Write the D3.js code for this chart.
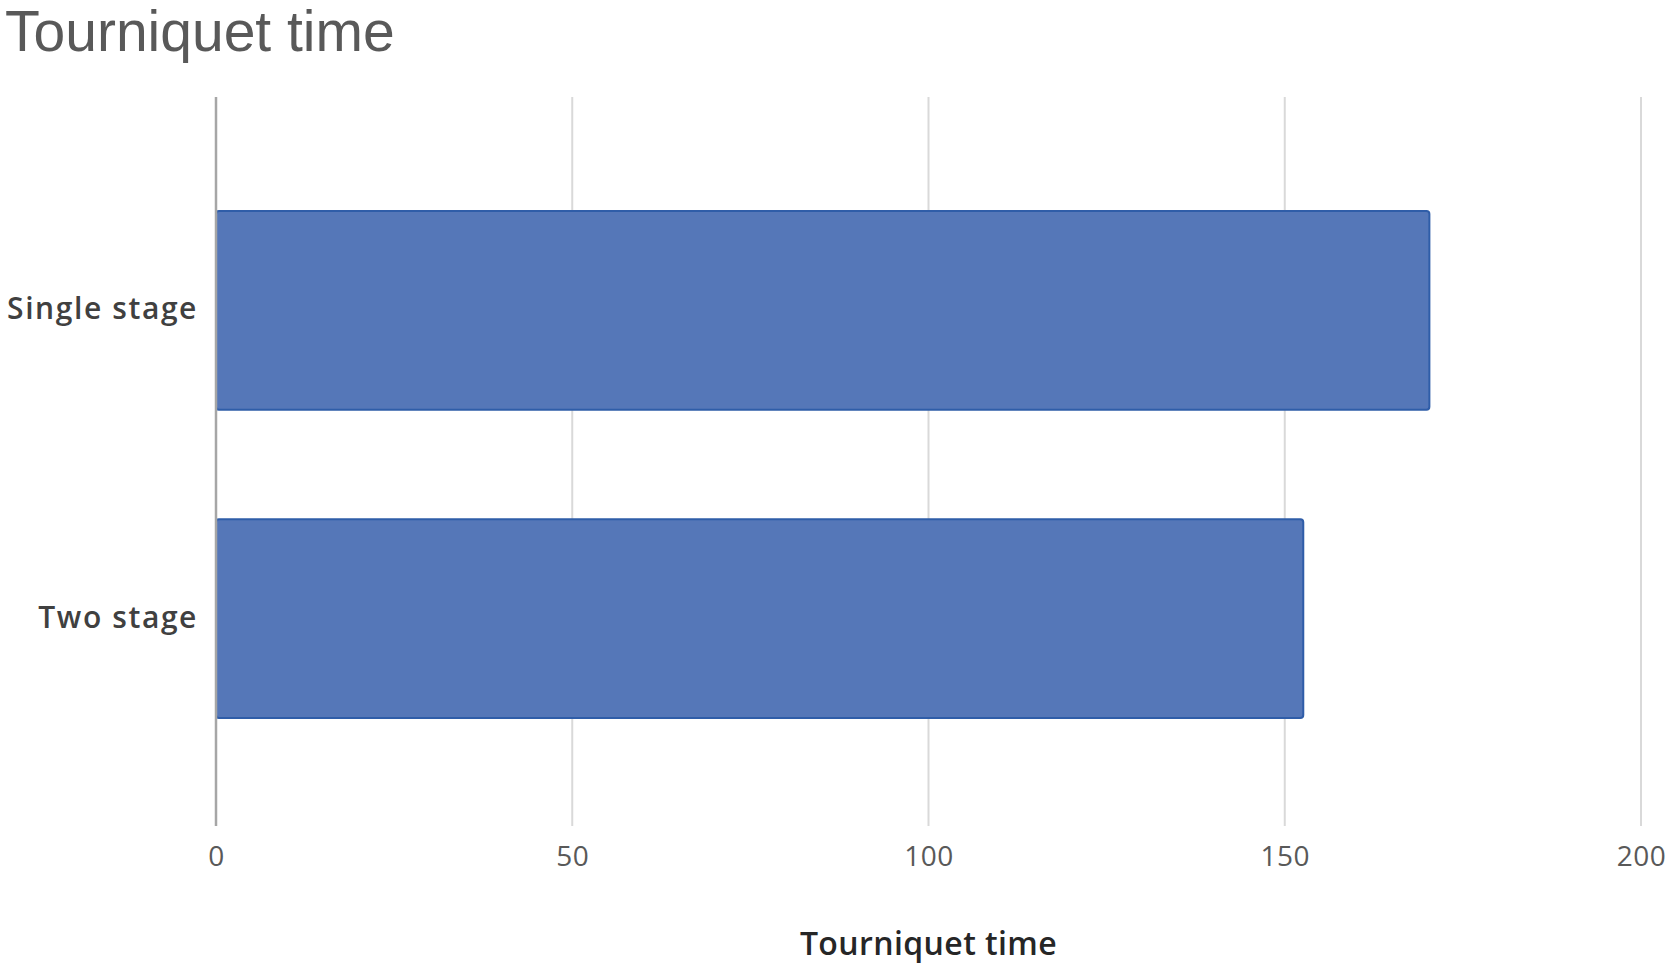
<!DOCTYPE html>
<html>
<head>
  <meta charset="utf-8">
  <title>Tourniquet time</title>
  <style>
    html, body {
      margin: 0;
      padding: 0;
      background: #fff;
      overflow: hidden;
    }
    .title {
      font: 57px "Liberation Sans", Arial, sans-serif;
      fill: #595959;
    }
    .cat text {
      font: 600 30px "Open Sans", sans-serif;
      fill: #404040;
      letter-spacing: 1.6px;
    }
    .xaxis text {
      font: 28px "Open Sans", sans-serif;
      fill: #595959;
      letter-spacing: 0.5px;
    }
    .axis-title {
      font: 600 32px "Open Sans", sans-serif;
      fill: #262626;
      letter-spacing: 0.4px;
    }
    .grid line {
      stroke: #d9d9d9;
      stroke-width: 2px;
    }
    .bar {
      fill: #5577b8;
      stroke: #2f5da8;
      stroke-width: 2px;
    }
  </style>
</head>
<body>
  <svg id="chart" width="1671" height="969"></svg>
  <script src="https://d3js.org/d3.v7.min.js"></script>
  <script>
    // Chart data
    const categories = ["Single stage", "Two stage"];
    const values = [170.3, 152.6];
    const xTicks = [0, 50, 100, 150, 200];

    const svg = d3.select("#chart");
    const plot = {left: 216, right: 1641, top: 97, bottom: 826};

    const x = d3.scaleLinear()
      .domain([0, 200])
      .range([plot.left, plot.right]);

    // bars sit a touch below the middle of the plot
    const y = d3.scaleBand()
      .domain(categories)
      .range([plot.top + 3, plot.bottom + 3])
      .paddingInner(0.355)
      .paddingOuter(0.36);

    // Title
    svg.append("text")
      .attr("class", "title")
      .attr("x", 5)
      .attr("y", 51)
      .text("Tourniquet time");

    // Vertical gridlines
    svg.append("g")
      .attr("class", "grid")
      .selectAll("line")
      .data(xTicks.slice(1))
      .join("line")
      .attr("x1", d => x(d))
      .attr("x2", d => x(d))
      .attr("y1", plot.top)
      .attr("y2", plot.bottom);

    // Bars
    svg.append("g")
      .selectAll("rect")
      .data(categories)
      .join("rect")
      .attr("class", "bar")
      .attr("x", x(0))
      .attr("y", d => y(d))
      .attr("width", (d, i) => x(values[i]) - x(0))
      .attr("height", y.bandwidth())
      .attr("rx", 3);

    // Value axis line at zero
    svg.append("line")
      .attr("x1", x(0))
      .attr("x2", x(0))
      .attr("y1", plot.top)
      .attr("y2", plot.bottom)
      .attr("stroke", "#a6a6a6")
      .attr("stroke-width", 2.5);

    // Category labels
    const yAxis = d3.axisLeft(y).tickSize(0).tickPadding(18);
    svg.append("g")
      .attr("class", "cat")
      .attr("transform", `translate(${x(0)},0)`)
      .call(yAxis)
      .call(g => g.select(".domain").remove())
      .selectAll("text")
      .attr("dy", "0.3em");

    // Bottom tick labels
    const xAxis = d3.axisBottom(x).tickValues(xTicks).tickSize(0).tickPadding(20);
    svg.append("g")
      .attr("class", "xaxis")
      .attr("transform", `translate(0,${plot.bottom})`)
      .call(xAxis)
      .call(g => g.select(".domain").remove());

    // Axis title
    svg.append("text")
      .attr("class", "axis-title")
      .attr("x", (plot.left + plot.right) / 2)
      .attr("y", 955)
      .attr("text-anchor", "middle")
      .text("Tourniquet time");
  </script>
</body>
</html>
